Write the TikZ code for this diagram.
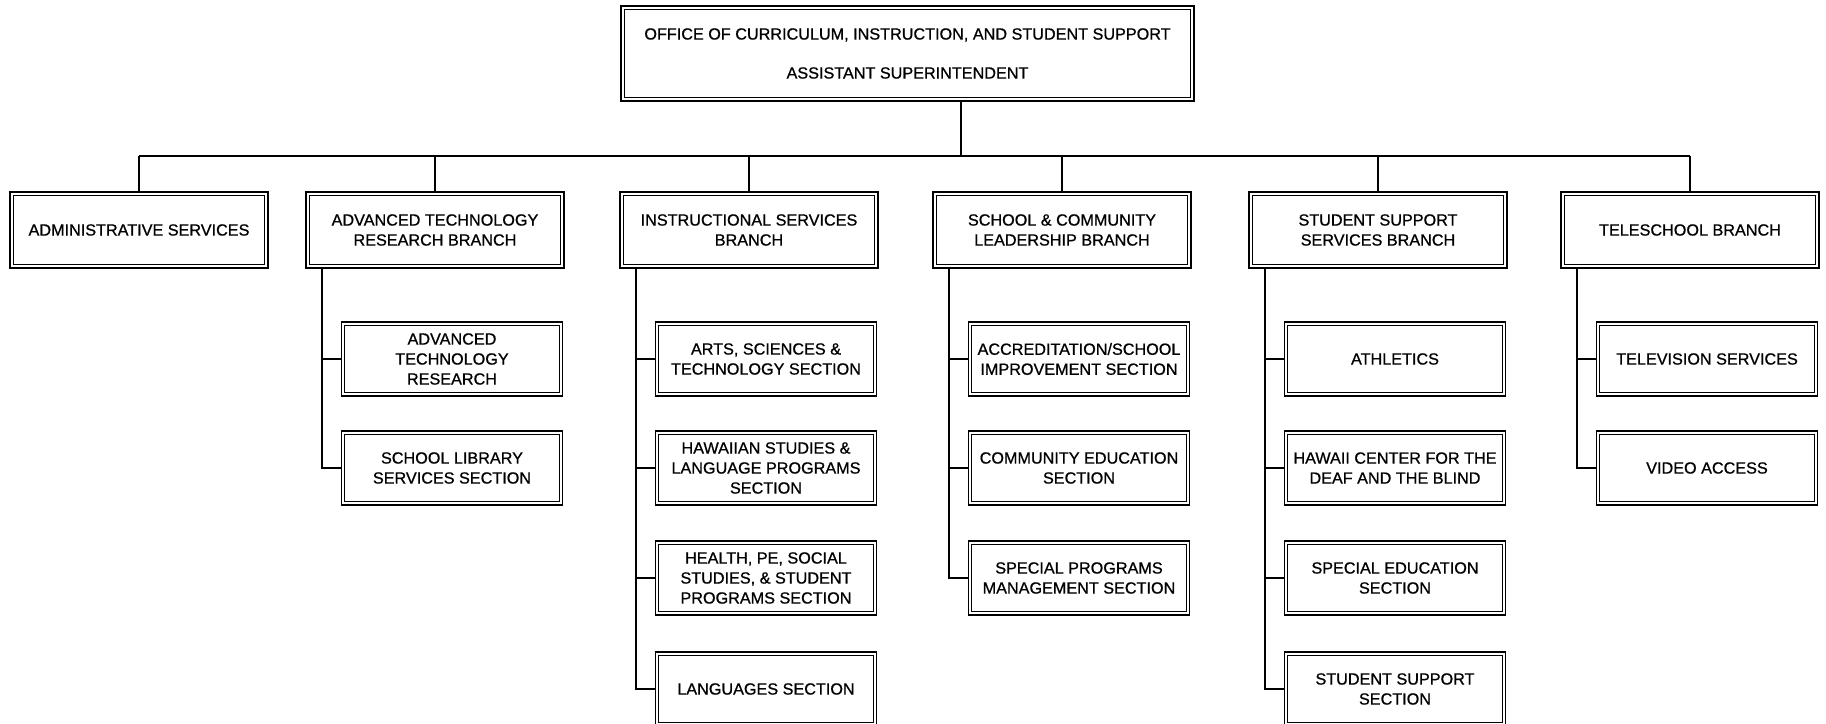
\documentclass[tikz,border=0pt]{standalone}
\usepackage{fontspec}
\setmainfont{Liberation Sans}
\newfontfamily\heavyfont[FakeBold=0.8]{Liberation Sans}
\begin{document}
\begin{tikzpicture}[x=1pt,y=-1pt,
  box/.style={draw, line width=1.8pt, align=center, inner sep=1pt,
    font=\heavyfont\fontsize{16.2}{20}\selectfont,
    path picture={\draw[line width=0.7pt]
      ([shift={(3.2pt,3.2pt)}]path picture bounding box.south west) rectangle
      ([shift={(-3.2pt,-3.2pt)}]path picture bounding box.north east);}},
  branch/.style={box, minimum width=258pt, minimum height=76pt},
  child/.style={box, minimum width=221pt, minimum height=74pt},
  link/.style={line width=1.5pt}]
\useasboundingbox (0,0) rectangle (1826,723);

\node[box, minimum width=573pt, minimum height=95pt] (top) at (907.5,53.5)
  {OFFICE OF CURRICULUM, INSTRUCTION, AND STUDENT SUPPORT\\[19pt]ASSISTANT SUPERINTENDENT};

\node[branch] (adm) at (139,230) {ADMINISTRATIVE SERVICES};
\node[branch] (atr) at (435,230) {ADVANCED TECHNOLOGY\\RESEARCH BRANCH};
\node[branch] (isb) at (749,230) {INSTRUCTIONAL SERVICES\\BRANCH};
\node[branch] (scl) at (1062,230) {SCHOOL \& COMMUNITY\\LEADERSHIP BRANCH};
\node[branch] (sss) at (1378,230) {STUDENT SUPPORT\\SERVICES BRANCH};
\node[branch] (tel) at (1690,230) {TELESCHOOL BRANCH};

% children
\node[child] (atr1) at (452,359) {ADVANCED\\TECHNOLOGY\\RESEARCH};
\node[child] (atr2) at (452,468) {SCHOOL LIBRARY\\SERVICES SECTION};

\node[child] (isb1) at (766,359) {ARTS, SCIENCES \&\\TECHNOLOGY SECTION};
\node[child] (isb2) at (766,468) {HAWAIIAN STUDIES \&\\LANGUAGE PROGRAMS\\SECTION};
\node[child] (isb3) at (766,578) {HEALTH, PE, SOCIAL\\STUDIES, \& STUDENT\\PROGRAMS SECTION};
\node[child] (isb4) at (766,689) {LANGUAGES SECTION};

\node[child] (scl1) at (1079,359) {ACCREDITATION/SCHOOL\\IMPROVEMENT SECTION};
\node[child] (scl2) at (1079,468) {COMMUNITY EDUCATION\\SECTION};
\node[child] (scl3) at (1079,578) {SPECIAL PROGRAMS\\MANAGEMENT SECTION};

\node[child] (sss1) at (1395,359) {ATHLETICS};
\node[child] (sss2) at (1395,468) {HAWAII CENTER FOR THE\\DEAF AND THE BLIND};
\node[child] (sss3) at (1395,578) {SPECIAL EDUCATION\\SECTION};
\node[child] (sss4) at (1395,689) {STUDENT SUPPORT\\SECTION};

\node[child] (tel1) at (1707,359) {TELEVISION SERVICES};
\node[child] (tel2) at (1707,468) {VIDEO ACCESS};

% top-level connectors
\coordinate (bus) at (961,156);
\draw[link] (top.south -| bus) -- (bus);
\draw[link] (adm.north |- bus) -- (tel.north |- bus);
\foreach \b in {adm,atr,isb,scl,sss,tel}
  \draw[link] (\b.north |- bus) -- (\b.north);

% spines
\foreach \b/\last in {atr/atr2,isb/isb4,scl/scl3,sss/sss4,tel/tel2}{
  \coordinate (\b S) at ([xshift=17pt]\b.south west);
  \draw[link] (\b S) |- (\last.west);
}
\foreach \b/\c in {atr/atr1,isb/isb1,isb/isb2,isb/isb3,scl/scl1,scl/scl2,sss/sss1,sss/sss2,sss/sss3,tel/tel1}
  \draw[link] (\c.west -| \b S) -- (\c.west);
\end{tikzpicture}
\end{document}
